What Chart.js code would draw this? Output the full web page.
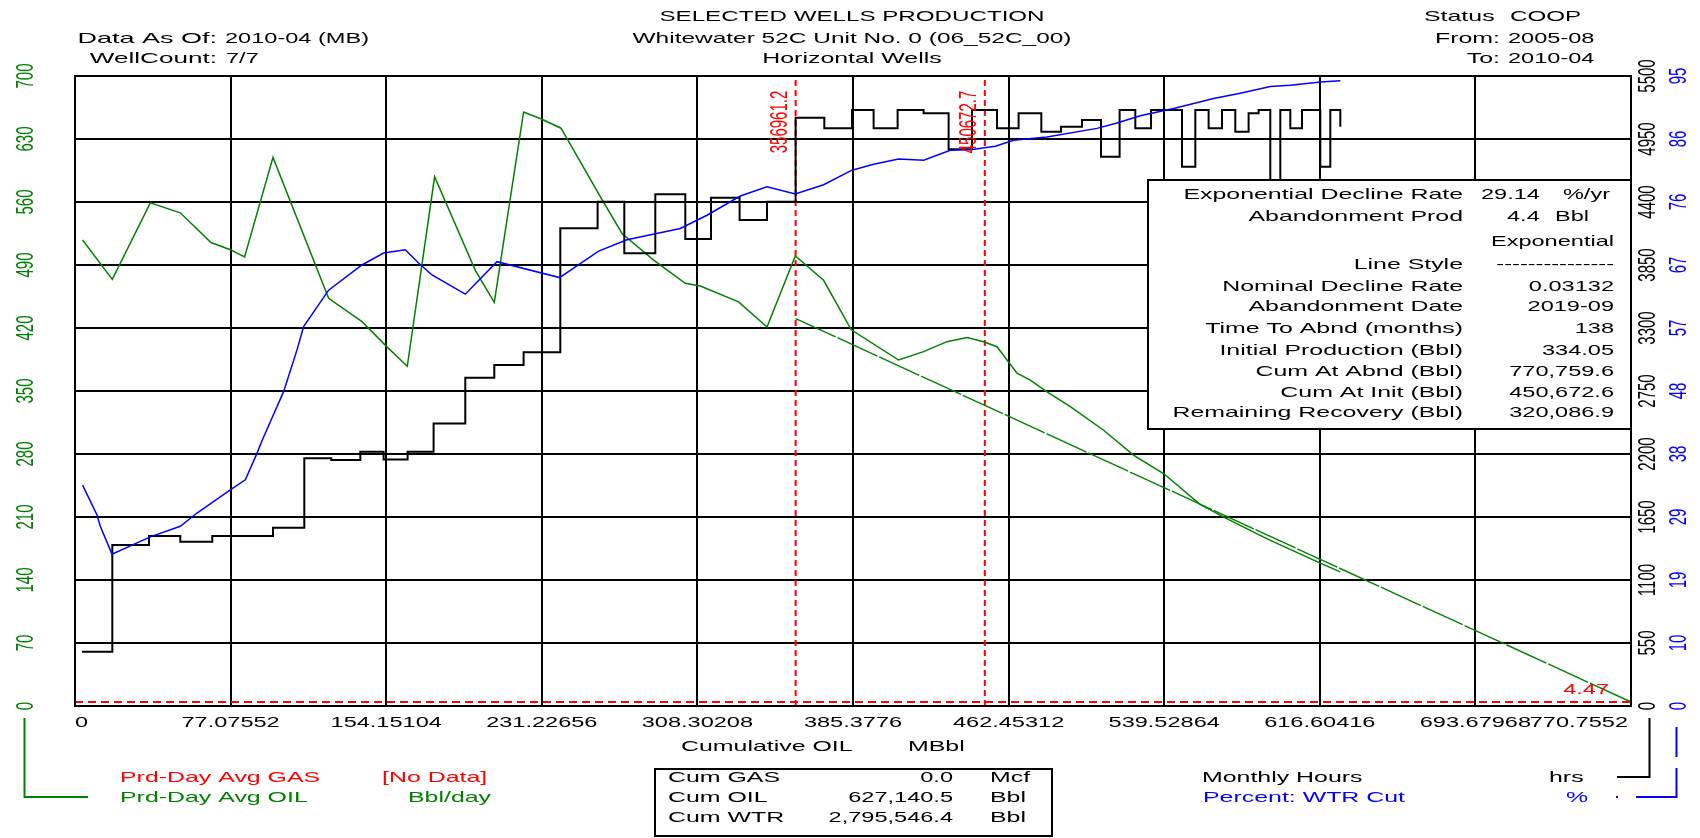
<!DOCTYPE html>
<html>
<head>
<meta charset="utf-8">
<script src="https://cdn.jsdelivr.net/npm/chart.js@4.4.1/dist/chart.umd.min.js"></script>
<style>
html,body{margin:0;padding:0;background:#fff;}
canvas{display:block;}
</style>
</head>
<body>
<canvas id="c" width="1700" height="838"></canvas>
<script>
// ---------------- DATA ----------------
const xTickValues = [0, 77.07552, 154.15104, 231.22656, 308.30208, 385.3776, 462.45312, 539.52864, 616.60416, 693.67968, 770.7552];
const xTickLabels = ['0','77.07552','154.15104','231.22656','308.30208','385.3776','462.45312','539.52864','616.60416','693.67968','770.7552'];
const oilTicks = [0,70,140,210,280,350,420,490,560,630,700];
const hoursTicks = [0,550,1100,1650,2200,2750,3300,3850,4400,4950,5500];
const pctTickValues = [0,9.5,19,28.5,38,47.5,57,66.5,76,85.5,95];
const pctTickLabels = ['0','10','19','29','38','48','57','67','76','86','95'];

// Prd-Day Avg OIL (Bbl/day) vs cumulative oil (MBbl)
const oilCum  = [3.76,18.48,37.30,52.16,67.37,76.93,84.01,98.08,125.62,142.16,154.55,164.60,178.13,198.29,207.70,222.21,231.32,240.74,260.20,270.95,286.61,302.31,309.74,328.71,342.78,356.80,370.82,384.54,407.97,420.36,431.95,441.86,450.08,456.72,466.62,473.21,481.48,493.03,509.52,524.48,539.39,557.07,569.31,591.05,618.19,626.77];
const oilRate = [517.8,474,559,548,515,507,499,609.6,453,427,399,377.5,588,484,448.6,660,652,642,566,525,495.5,469.7,466.7,449,421,500,473,418,384.4,393.7,404.8,409.3,404.8,399.2,369.7,362,349,332.6,306.4,278.4,258,224.4,209.5,185.2,157.3,149];

// Monthly Hours (hrs), step starts vs cumulative oil
const hoursCum = [3.47,18.48,36.66,52.16,68.01,98.08,113.58,126.96,141.32,152.86,164.75,177.63,193.33,207.70,222.21,240.39,258.87,272.09,287.45,302.31,315.04,329.21,342.78,356.96,371.17,384.89,395.59,407.48,420.36,432.74,444.33,456.72,467.41,478.66,488.42,498.82,508.23,517.44,525.22,533.00,548.35,554.94,561.53,568.17,574.75,581.34,586.30,592.09,597.04,602.00,607.79,616.86,621.81,626.77];
const hoursVal = [474,1405,1484,1434,1484,1557,2162,2148,2220,2153,2220,2467,2866,2977,3088,4170,4402,3952,4467,4077,4437,4243,4402,5136,5043,5203,5043,5203,5175,4860,5203,5043,5175,5013,5057,5116,4795,5203,5043,5203,4708,5203,5043,5203,5013,5175,5203,4200,5203,5043,5203,4708,5203,5057];

// Percent: WTR Cut (%)
const wcCum = [3.76,10.90,12.53,18.33,37.30,52.16,60.43,76.93,84.36,90.15,92.63,103.33,109.97,113.24,125.62,142.16,152.86,163.61,170.20,176.84,193.33,209.03,240.04,259.36,273.43,299.83,313.05,329.55,342.78,356.80,370.82,384.89,395.59,407.97,420.36,433.58,444.33,455.88,464.94,481.48,506.25,516.15,527.69,544.19,564.00,577.23,592.09,602.00,616.86,626.77];
const wcPct = [33.3,28.8,27.1,22.9,25.5,27.1,29.1,32.6,34.1,38.1,40.0,47.4,53.7,57.2,62.7,66.5,68.3,68.8,66.8,65,62.1,67,64.6,68.6,70.3,72,74,76.9,78.3,77.2,78.6,80.8,81.7,82.5,82.3,83.8,83.9,84.4,85.3,85.8,87.1,87.9,89,90.1,91.6,92.4,93.4,93.6,94.1,94.3];

// Exponential decline fit
const fitCum  = [356.9612, 450.6727, 770.7552];
const fitRate = [430.5, 334.05, 4.47];
const markerCum = [356.9612, 450.6727];
const markerLabels = ['356961.2', '450672.7'];
const abandonRate = 4.47;
const abandonLabel = '4.47';

const fitRows = [
  ['Exponential Decline Rate', ''],
  ['Abandonment Prod', ''],
  ['', 'Exponential'],
  ['Line Style', '---------------'],
  ['Nominal Decline Rate', '0.03132'],
  ['Abandonment Date', '2019-09'],
  ['Time To Abnd (months)', '138'],
  ['Initial Production (Bbl)', '334.05'],
  ['Cum At Abnd (Bbl)', '770,759.6'],
  ['Cum At Init (Bbl)', '450,672.6'],
  ['Remaining Recovery (Bbl)', '320,086.9']
];
const cumRows = [['Cum GAS','0.0','Mcf'],['Cum OIL','627,140.5','Bbl'],['Cum WTR','2,795,546.4','Bbl']];

// ---------------- HELPERS ----------------
const GREEN = '#008000', BLUE = '#0000ff', RED = '#ff0000', BLACK = '#000000';
const SX_NUM = 1.57, SX_TXT = 1.66, SX_TITLE = 1.61;
const FONT = '15px "Liberation Sans", Arial, sans-serif';
function T(ctx, s, x, y, color, align, sx) {
  ctx.save();
  ctx.translate(x, y);
  ctx.scale(sx || SX_TXT, 1);
  ctx.font = FONT;
  ctx.fillStyle = color || BLACK;
  ctx.textAlign = align || 'left';
  ctx.textBaseline = 'middle';
  ctx.fillText(s, 0, 0);
  ctx.restore();
}
function TV(ctx, s, x, y, color) {
  ctx.save();
  ctx.translate(x, y);
  ctx.scale(1.6, 1);
  ctx.rotate(-Math.PI / 2);
  ctx.font = FONT;
  ctx.fillStyle = color || BLACK;
  ctx.textAlign = 'center';
  ctx.textBaseline = 'middle';
  ctx.fillText(s, 0, 0);
  ctx.restore();
}
function L(ctx, pts, color, w, dash) {
  ctx.save();
  ctx.strokeStyle = color; ctx.lineWidth = w || 2;
  ctx.setLineDash(dash || []);
  ctx.beginPath();
  ctx.moveTo(pts[0][0], pts[0][1]);
  for (let i = 1; i < pts.length; i++) ctx.lineTo(pts[i][0], pts[i][1]);
  ctx.stroke();
  ctx.restore();
}
const zip = (a, b) => a.map((v, i) => ({x: v, y: b[i]}));

const overlay = {
  id: 'overlay',
  afterDatasetsDraw(chart) {
    const ctx = chart.ctx;
    const a = chart.chartArea;
    const xs = chart.scales.x, ys = chart.scales.y, yh = chart.scales.y1, yp = chart.scales.y2;

    // frame
    ctx.save();
    ctx.strokeStyle = BLACK; ctx.lineWidth = 2;
    ctx.strokeRect(a.left, a.top, a.right - a.left, a.bottom - a.top);
    ctx.restore();

    // marker labels
    markerCum.forEach((v, i) => TV(ctx, markerLabels[i], xs.getPixelForValue(v) - 15, a.top + 46, RED));
    T(ctx, abandonLabel, a.right - 22, ys.getPixelForValue(abandonRate) - 12, RED, 'right', SX_NUM);

    // fit table box
    const bx = 1148, by = 180, bw = a.right - 1148, bh = 249;
    ctx.save();
    ctx.fillStyle = '#fff'; ctx.fillRect(bx, by, bw, bh);
    ctx.strokeStyle = BLACK; ctx.lineWidth = 2; ctx.strokeRect(bx, by, bw, bh);
    ctx.restore();
    const rowY = [195, 216.7, 241.7, 265, 286.7, 307, 329.3, 350.7, 371.5, 392.7, 413.3];
    fitRows.forEach((r, i) => {
      if (r[0]) T(ctx, r[0], 1463, rowY[i], BLACK, 'right');
      if (r[1]) T(ctx, r[1], 1614, rowY[i], BLACK, 'right', SX_NUM);
    });
    T(ctx, '29.14', 1481, rowY[0], BLACK, 'left', SX_NUM);
    T(ctx, '%/yr', 1610, rowY[0], BLACK, 'right', SX_NUM);
    T(ctx, '4.4', 1507, rowY[1], BLACK, 'left', SX_NUM);
    T(ctx, 'Bbl', 1589, rowY[1], BLACK, 'right', SX_NUM);

    // tick labels
    xTickValues.forEach((v, i) => {
      const px = xs.getPixelForValue(v);
      const al = i === 0 ? 'left' : (i === xTickValues.length - 1 ? 'right' : 'center');
      T(ctx, xTickLabels[i], i === xTickValues.length - 1 ? px - 3 : px, 723, BLACK, al, SX_NUM);
    });
    oilTicks.forEach(v => TV(ctx, String(v), 26, ys.getPixelForValue(v), GREEN));
    hoursTicks.forEach(v => TV(ctx, String(v), 1648, yh.getPixelForValue(v), BLACK));
    pctTickValues.forEach((v, i) => TV(ctx, pctTickLabels[i], 1679, yp.getPixelForValue(v), BLUE));

    // header
    T(ctx, 'SELECTED WELLS PRODUCTION', 852, 17, BLACK, 'center', SX_TITLE);
    T(ctx, 'Whitewater 52C Unit No. 0 (06_52C_00)', 852, 39, BLACK, 'center', 1.63);
    T(ctx, 'Horizontal Wells', 852, 59, BLACK, 'center');
    T(ctx, 'Data As Of:', 217, 39, BLACK, 'right', 1.8);
    T(ctx, '2010-04 (MB)', 225, 39, BLACK, 'left', SX_NUM);
    T(ctx, 'WellCount:', 217, 59, BLACK, 'right', 1.74);
    T(ctx, '7/7', 226, 59, BLACK, 'left', SX_NUM);
    T(ctx, 'Status', 1424, 17, BLACK, 'left');
    T(ctx, 'COOP', 1510, 17, BLACK, 'left', SX_TITLE);
    T(ctx, 'From:', 1500, 39, BLACK, 'right');
    T(ctx, '2005-08', 1508, 39, BLACK, 'left', SX_NUM);
    T(ctx, 'To:', 1500, 59, BLACK, 'right');
    T(ctx, '2010-04', 1508, 59, BLACK, 'left', SX_NUM);

    // axis title
    T(ctx, 'Cumulative OIL', 681, 747, BLACK, 'left');
    T(ctx, 'MBbl', 908, 747, BLACK, 'left');

    // summary box
    ctx.save();
    ctx.strokeStyle = BLACK; ctx.lineWidth = 2;
    ctx.strokeRect(655, 769, 397, 67);
    ctx.restore();
    cumRows.forEach((r, i) => {
      const y = 778 + i * 20;
      T(ctx, r[0], 668, y, BLACK, 'left');
      T(ctx, r[1], 953, y, BLACK, 'right', SX_NUM);
      T(ctx, r[2], 990, y, BLACK, 'left');
    });

    // left legend
    T(ctx, 'Prd-Day Avg GAS', 120, 778, RED, 'left');
    T(ctx, '[No Data]', 382, 778, RED, 'left');
    T(ctx, 'Prd-Day Avg OIL', 120, 798, GREEN, 'left');
    T(ctx, 'Bbl/day', 408, 798, GREEN, 'left');
    L(ctx, [[24.5, 718], [24.5, 797], [88, 797]], GREEN, 2);

    // right legend
    T(ctx, 'Monthly Hours', 1202, 778, BLACK, 'left');
    T(ctx, 'hrs', 1549, 778, BLACK, 'left');
    T(ctx, 'Percent: WTR Cut', 1203, 798, BLUE, 'left');
    T(ctx, '%', 1566, 798, BLUE, 'left');
    L(ctx, [[1649.5, 718], [1649.5, 777], [1617, 777]], BLACK, 2);
    L(ctx, [[1676.5, 727], [1676.5, 757]], BLUE, 2);
    L(ctx, [[1676.5, 768], [1676.5, 797], [1636, 797]], BLUE, 2);
    ctx.save(); ctx.fillStyle = BLUE; ctx.fillRect(1616, 796, 2, 2); ctx.restore();
  }
};

const ctx = document.getElementById('c').getContext('2d');
new Chart(ctx, {
  type: 'line',
  data: {
    datasets: [
      { label: 'Percent: WTR Cut', data: zip(wcCum, wcPct), yAxisID: 'y2', borderColor: BLUE, borderWidth: 1.5, pointRadius: 0, tension: 0 },
      { label: 'Monthly Hours', data: zip(hoursCum, hoursVal), yAxisID: 'y1', borderColor: BLACK, borderWidth: 2, pointRadius: 0, stepped: 'before' },
      { label: 'Exponential fit', data: zip(fitCum, fitRate), yAxisID: 'y', borderColor: GREEN, borderWidth: 1.4, pointRadius: 0, borderDash: [44, 2] },
      { label: 'Prd-Day Avg OIL', data: zip(oilCum, oilRate), yAxisID: 'y', borderColor: GREEN, borderWidth: 1.5, pointRadius: 0, tension: 0 },
      { label: 'Abandonment', data: [{x: 0, y: abandonRate}, {x: xTickValues[xTickValues.length - 1], y: abandonRate}], yAxisID: 'y', borderColor: RED, borderWidth: 2, borderDash: [8, 5], pointRadius: 0 },
      { label: 'Marker 1', data: [{x: markerCum[0], y: 0}, {x: markerCum[0], y: 700}], yAxisID: 'y', borderColor: RED, borderWidth: 2, borderDash: [6, 4], pointRadius: 0 },
      { label: 'Marker 2', data: [{x: markerCum[1], y: 0}, {x: markerCum[1], y: 700}], yAxisID: 'y', borderColor: RED, borderWidth: 2, borderDash: [6, 4], pointRadius: 0 }
    ]
  },
  options: {
    responsive: false,
    animation: false,
    devicePixelRatio: 1,
    layout: { padding: { top: 76, right: 69, left: 0, bottom: 0 } },
    plugins: { legend: { display: false }, tooltip: { enabled: false }, title: { display: false } },
    scales: {
      x: {
        type: 'linear', min: 0, max: 770.7552,
        afterBuildTicks: s => { s.ticks = xTickValues.map(v => ({ value: v })); },
        afterFit: s => { s.height = 132; },
        ticks: { display: false },
        grid: { color: BLACK, lineWidth: 2, drawTicks: false },
        border: { color: BLACK, width: 2 }
      },
      y: {
        type: 'linear', position: 'left', min: 0, max: 700,
        afterBuildTicks: s => { s.ticks = oilTicks.map(v => ({ value: v })); },
        afterFit: s => { s.width = 75; },
        ticks: { display: false },
        grid: { color: BLACK, lineWidth: 2, drawTicks: false },
        border: { color: BLACK, width: 2 }
      },
      y1: { type: 'linear', position: 'right', min: 0, max: 5500, display: false },
      y2: { type: 'linear', position: 'right', min: 0, max: 95, display: false }
    }
  },
  plugins: [overlay]
});
</script>
</body>
</html>
